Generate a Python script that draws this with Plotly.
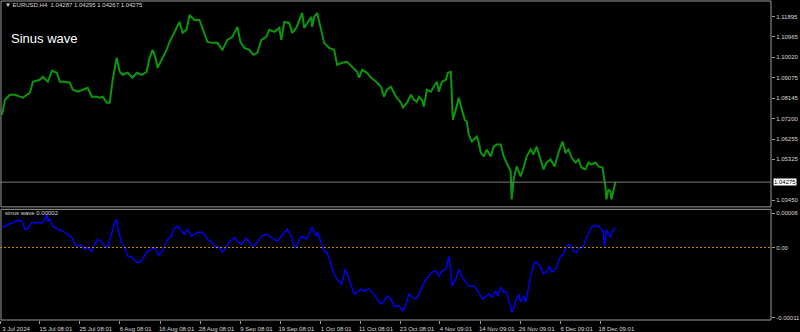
import plotly.graph_objects as go

# ---- data ----
price_x = [2, 5, 10, 15, 20, 23, 30, 33, 40, 43, 48, 52, 57, 60, 65, 70, 73, 78, 83, 88,
           92, 97, 100, 103, 107, 110, 113, 117, 120, 123, 128, 133, 137, 142, 147, 150, 153, 156, 158, 162,
           167, 170, 175, 180, 183, 187, 190, 195, 200, 203, 208, 213, 218, 223, 228, 233, 238, 241, 245, 250,
           254, 258, 262, 267, 270, 275, 280, 282, 285, 290, 293, 297, 300, 303, 305, 308, 312, 313, 315, 318,
           322, 325, 330, 335, 338, 343, 348, 353, 358, 360, 363, 368, 372, 377, 382, 385, 388, 392, 397, 402,
           404, 408, 412, 415, 418, 420, 423, 425, 428, 432, 435, 438, 440, 443, 447, 449, 452, 453, 454, 457,
           460, 463, 466, 468, 470, 473, 478, 480, 482, 485, 488, 492, 495, 498, 502, 505, 508, 512, 513, 515,
           518, 522, 525, 528, 532, 535, 538, 542, 545, 548, 552, 556, 560, 564, 567, 570, 573, 577, 580, 583,
           587, 590, 593, 597, 600, 604, 607, 608, 610, 612, 613, 616, 617]
price = [1.07383, 1.08072, 1.08301, 1.08301, 1.08210, 1.08164, 1.08393, 1.08898, 1.08990, 1.09128,
         1.08898, 1.09403, 1.09311, 1.08898, 1.08898, 1.08852, 1.08531, 1.08439, 1.08531, 1.08622,
         1.08210, 1.08210, 1.08164, 1.08210, 1.07934, 1.07934, 1.08990, 1.09999, 1.09357, 1.09219,
         1.09311, 1.09082, 1.09311, 1.09219, 1.09357, 1.09999, 1.10367, 1.09999, 1.09541, 1.09908,
         1.10367, 1.10734, 1.11193, 1.11652, 1.11147, 1.11285, 1.11973, 1.11743, 1.11743, 1.11376,
         1.10734, 1.10688, 1.10688, 1.10367, 1.10825, 1.10963, 1.11422, 1.10734, 1.10458, 1.10367,
         1.10137, 1.10229, 1.10825, 1.10963, 1.11285, 1.11193, 1.11376, 1.10825, 1.11652, 1.11606,
         1.11147, 1.11376, 1.11743, 1.12065, 1.11376, 1.11606, 1.11881, 1.11422, 1.11881, 1.12065,
         1.11285, 1.10688, 1.10458, 1.10367, 1.09678, 1.09770, 1.09816, 1.09586, 1.09357, 1.09082,
         1.09449, 1.09311, 1.09082, 1.08898, 1.08668, 1.08210, 1.08531, 1.08668, 1.08210, 1.07934,
         1.07705, 1.07934, 1.08301, 1.08072, 1.07980, 1.08210, 1.08072, 1.07751, 1.08531, 1.08439,
         1.08668, 1.08898, 1.08439, 1.08898, 1.08990, 1.09311, 1.09357, 1.08393, 1.07154, 1.07613,
         1.08164, 1.07613, 1.07154, 1.07062, 1.06465, 1.06144, 1.06373, 1.06098, 1.05639, 1.05455,
         1.05777, 1.05455, 1.05914, 1.06006, 1.06006, 1.05455, 1.05180, 1.04767, 1.03482, 1.04399,
         1.04996, 1.04537, 1.04950, 1.05455, 1.05777, 1.05547, 1.05914, 1.05318, 1.04859, 1.05180,
         1.05318, 1.04996, 1.05639, 1.06144, 1.05639, 1.05777, 1.05409, 1.05180, 1.05318, 1.04950,
         1.04859, 1.05180, 1.05088, 1.05180, 1.04996, 1.04950, 1.04078, 1.03482, 1.03941, 1.03849,
         1.03482, 1.04078, 1.04275]

wave_x = [2, 7, 13, 18, 22, 25, 28, 32, 35, 38, 42, 45, 47, 48, 50, 53, 58, 63, 68, 72,
          75, 78, 82, 85, 88, 92, 95, 98, 102, 105, 108, 112, 115, 117, 119, 122, 125, 128, 132, 137,
          140, 143, 147, 152, 155, 159, 162, 165, 168, 172, 174, 178, 182, 185, 188, 192, 195, 198, 202, 205,
          208, 212, 215, 220, 223, 227, 230, 235, 238, 242, 247, 250, 254, 258, 262, 267, 270, 275, 278, 282,
          285, 288, 292, 295, 298, 300, 303, 307, 310, 313, 317, 318, 322, 325, 328, 332, 335, 338, 342, 344,
          346, 349, 352, 355, 358, 362, 365, 370, 373, 377, 380, 383, 388, 392, 395, 400, 404, 407, 410, 413,
          417, 420, 423, 427, 430, 433, 437, 440, 443, 447, 450, 452, 453, 457, 460, 463, 467, 470, 475, 478,
          482, 484, 487, 490, 493, 497, 499, 502, 505, 508, 510, 512, 513, 515, 517, 520, 522, 525, 527, 530,
          533, 536, 538, 542, 545, 548, 551, 553, 557, 560, 562, 565, 568, 571, 575, 578, 582, 585, 588, 591,
          593, 597, 600, 603, 605, 606, 608, 610, 612, 613, 617]
wave = [3.15e-5, 3.47e-5, 3.94e-5, 4.25e-5, 4.09e-5, 2.85e-5, 3.00e-5, 3.94e-5, 3.78e-5, 3.94e-5,
        3.78e-5, 4.40e-5, 5.18e-5, 4.09e-5, 4.40e-5, 3.31e-5, 2.85e-5, 2.54e-5, 2.07e-5, 1.60e-5,
        0.51e-5, 0.20e-5, 0.36e-5, -0.26e-5, 0.05e-5, -0.58e-5, 0.51e-5, 1.29e-5, 0.82e-5, 0.20e-5,
        0.05e-5, 2.38e-5, 3.94e-5, 4.40e-5, 2.38e-5, 0.82e-5, 0.05e-5, -1.35e-5, -1.51e-5, -2.29e-5,
        -2.29e-5, -1.82e-5, -0.73e-5, -0.26e-5, 0.05e-5, -1.20e-5, -0.73e-5, 0.20e-5, 1.29e-5, 1.76e-5,
        2.85e-5, 3.31e-5, 2.54e-5, 2.07e-5, 2.85e-5, 1.76e-5, 2.07e-5, 2.38e-5, 2.38e-5, 2.07e-5,
        1.29e-5, 0.82e-5, 0.20e-5, 0.05e-5, -0.73e-5, 0.20e-5, 0.82e-5, 1.60e-5, 0.98e-5, 0.51e-5,
        1.45e-5, 0.82e-5, 0.05e-5, 0.82e-5, 1.76e-5, 2.07e-5, 1.76e-5, 1.29e-5, 0.98e-5, 1.76e-5,
        2.38e-5, 2.85e-5, 1.76e-5, 0.05e-5, 0.20e-5, 1.29e-5, 1.76e-5, 1.29e-5, 2.07e-5, 3.15e-5,
        1.76e-5, 2.38e-5, 0.82e-5, -0.58e-5, -0.73e-5, -2.91e-5, -4.15e-5, -4.93e-5, -5.71e-5, -4.93e-5,
        -3.38e-5, -4.47e-5, -5.71e-5, -7.27e-5, -6.96e-5, -6.49e-5, -6.80e-5, -6.49e-5, -6.96e-5, -7.73e-5,
        -8.51e-5, -8.82e-5, -7.58e-5, -8.04e-5, -9.13e-5, -9.13e-5, -9.91e-5, -8.82e-5, -7.27e-5, -7.73e-5,
        -8.04e-5, -7.27e-5, -6.18e-5, -4.93e-5, -4.47e-5, -3.84e-5, -3.69e-5, -4.47e-5, -3.69e-5, -3.38e-5,
        -1.35e-5, -3.38e-5, -6.02e-5, -4.93e-5, -3.38e-5, -4.47e-5, -5.40e-5, -6.02e-5, -6.02e-5, -6.49e-5,
        -7.58e-5, -8.04e-5, -7.73e-5, -7.27e-5, -7.73e-5, -6.80e-5, -7.58e-5, -6.18e-5, -6.96e-5, -6.96e-5,
        -8.36e-5, -9.13e-5, -10.07e-5, -9.60e-5, -8.36e-5, -7.27e-5, -8.51e-5, -7.58e-5, -8.51e-5, -6.02e-5,
        -3.84e-5, -2.29e-5, -2.29e-5, -3.07e-5, -4.15e-5, -3.84e-5, -2.91e-5, -3.84e-5, -3.38e-5, -2.13e-5,
        -1.35e-5, -1.04e-5, 0.20e-5, 0.51e-5, -0.58e-5, -0.73e-5, 0.05e-5, 0.20e-5, 1.60e-5, 2.38e-5,
        3.15e-5, 3.47e-5, 3.31e-5, 2.85e-5, 2.38e-5, 0.05e-5, 2.85e-5, 2.07e-5, 1.60e-5, 2.38e-5, 3.15e-5]

time_tick_pos = [0, 40, 80, 120, 161, 201, 241, 281, 321, 361, 402, 441, 482, 522, 562, 602]
time_tick_text = ["3 Jul 2024", "15 Jul 08:01", "25 Jul 08:01", "6 Aug 08:01", "16 Aug 08:01",
                  "28 Aug 08:01", "9 Sep 08:01", "19 Sep 08:01", "1 Oct 08:01", "11 Oct 08:01",
                  "23 Oct 08:01", "4 Nov 09:01", "14 Nov 09:01", "26 Nov 09:01", "6 Dec 09:01",
                  "18 Dec 09:01"]
price_ticks = [1.11895, 1.10965, 1.10020, 1.09075, 1.08145, 1.07200, 1.06255, 1.05325, 1.03450]
price_tick_text = ["1.11895", "1.10965", "1.10020", "1.09075", "1.08145", "1.07200", "1.06255",
                   "1.05325", "1.03450"]
wave_ticks = [5.34e-5, 0.0, -1.10e-4]
wave_tick_text = ["0.00006", "0.00", "-0.00011"]
last_price = 1.04275
header_text = "\u25BC EURUSD,H4  1.04287 1.04295 1.04267 1.04275"
wave_label = "sinus wave 0.00002"
title_text = "Sinus wave"

# ---- layout constants ----
W, H = 800, 332
ML, MR, MT, MB = 0, 27, 0, 11
PH = H - MT - MB  # 321
main_bottom_px, sub_top_px = 208, 210
main_dom = [(PH - main_bottom_px) / PH, 1.0]
sub_dom = [0.0, (PH - sub_top_px) / PH]

FONT = "Liberation Sans"
TXT = "#d8d8d8"
FRAME = "#9a9a9a"

fig = go.Figure()
fig.add_trace(go.Scatter(x=price_x, y=price, mode="lines", xaxis="x", yaxis="y",
                         line=dict(color="#0c960c", width=2), hoverinfo="skip"))
fig.add_trace(go.Scatter(x=wave_x, y=wave, mode="lines", xaxis="x", yaxis="y2",
                         line=dict(color="#0000ff", width=1.4), hoverinfo="skip"))

fig.update_layout(
    width=W, height=H, margin=dict(l=ML, r=MR, t=MT, b=MB),
    paper_bgcolor="#000000", plot_bgcolor="#000000", showlegend=False,
    font=dict(family=FONT, size=6, color=TXT),
    xaxis=dict(domain=[0, 1], anchor="y2", range=[0, 773], showgrid=False, zeroline=False,
               tickmode="array", tickvals=time_tick_pos, ticktext=time_tick_text,
               ticks="outside", ticklen=3, tickcolor=FRAME, tickfont=dict(size=6, color=TXT),
               ticklabelshift=16, showline=False),
    yaxis=dict(domain=main_dom, anchor="x", side="right",
               range=[1.126615 - 0.000459 * main_bottom_px, 1.126615],
               showgrid=False, zeroline=False, tickmode="array", tickvals=price_ticks,
               ticktext=price_tick_text, ticks="outside", ticklen=3, tickcolor=FRAME,
               tickfont=dict(size=6, color=TXT)),
    yaxis2=dict(domain=sub_dom, anchor="x", side="right",
                range=[(248.3 - PH) * 1.556e-6, (248.3 - sub_top_px) * 1.556e-6],
                showgrid=False, zeroline=False, tickmode="array", tickvals=wave_ticks,
                ticktext=wave_tick_text, ticks="outside", ticklen=3, tickcolor=FRAME,
                tickfont=dict(size=6, color=TXT)),
)

shapes = [
    # pane frames
    dict(type="rect", xref="paper", yref="paper", x0=1 / 773, x1=1, y0=main_dom[0] + 0.5 / PH,
         y1=1 - 1 / PH, line=dict(color=FRAME, width=1)),
    dict(type="rect", xref="paper", yref="paper", x0=1 / 773, x1=1, y0=0,
         y1=sub_dom[1], line=dict(color=FRAME, width=1)),
    # bid line
    dict(type="line", xref="paper", yref="y", x0=0, x1=1, y0=last_price, y1=last_price,
         line=dict(color="#7a7a7a", width=1)),
    # zero level
    dict(type="line", xref="paper", yref="y2", x0=0, x1=1, y0=0, y1=0,
         line=dict(color="#c88c00", width=1, dash="2px,2px")),
]
fig.update_layout(shapes=shapes)

annotations = [
    dict(text=header_text, xref="paper", yref="paper", x=3 / 773, y=1 - 5 / PH,
         xanchor="left", yanchor="middle", showarrow=False, font=dict(size=6, color=TXT)),
    dict(text=title_text, xref="paper", yref="paper", x=9 / 773, y=1 - 39 / PH,
         xanchor="left", yanchor="middle", showarrow=False,
         font=dict(family=FONT, size=13, color="#ffffff")),
    dict(text=wave_label, xref="paper", yref="paper", x=3 / 773, y=(PH - 214) / PH,
         xanchor="left", yanchor="middle", showarrow=False, font=dict(size=6, color=TXT)),
    dict(text="1.04275", xref="paper", yref="y", x=1, y=last_price, xanchor="left",
         yanchor="middle", xshift=2, showarrow=False, bgcolor="#ffffff", borderpad=0,
         font=dict(size=6, color="#000000")),
]
fig.update_layout(annotations=annotations)

fig.write_html("out.html")
